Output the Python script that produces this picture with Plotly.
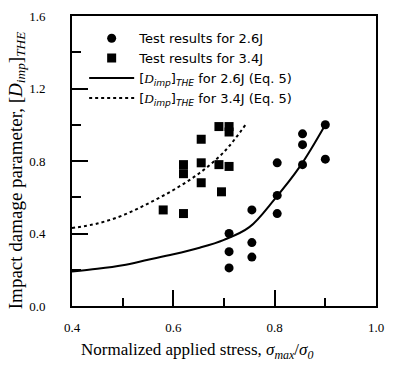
import plotly.graph_objects as go

# Test results, 2.6 J (circles)
x26 = [0.71, 0.71, 0.71, 0.755, 0.755, 0.755, 0.805, 0.805, 0.805, 0.855, 0.855, 0.855, 0.90, 0.90]
y26 = [0.40, 0.30, 0.21, 0.53, 0.35, 0.27, 0.79, 0.61, 0.51, 0.95, 0.89, 0.78, 1.00, 0.81]
# Test results, 3.4 J (squares)
x34 = [0.58, 0.62, 0.62, 0.62, 0.655, 0.655, 0.655, 0.69, 0.71, 0.71, 0.69, 0.71, 0.695]
y34 = [0.53, 0.51, 0.78, 0.73, 0.92, 0.79, 0.68, 0.99, 0.99, 0.96, 0.78, 0.77, 0.63]
# Eq. 5 curves
xc26 = [0.40, 0.45, 0.50, 0.55, 0.60, 0.65, 0.70, 0.75, 0.80, 0.85, 0.90]
yc26 = [0.19, 0.205, 0.225, 0.255, 0.285, 0.32, 0.365, 0.435, 0.59, 0.77, 1.00]
xc34 = [0.40, 0.45, 0.50, 0.55, 0.60, 0.65, 0.70, 0.745]
yc34 = [0.43, 0.455, 0.50, 0.565, 0.64, 0.73, 0.85, 1.01]

ytickvals = [0.0, 0.4, 0.8, 1.2, 1.6]
yticktext = ["0.0", "0.4", "0.8", "1.2", "1.6"]
xtickvals = [0.4, 0.6, 0.8, 1.0]
xticktext = ["0.4", "0.6", "0.8", "1.0"]

serif = "Liberation Serif"
sans = "DejaVu Sans"
D = '[<span style="font-family:Liberation Serif"><i>D</i></span><sub><i>imp</i></sub>]<sub><i>THE</i></sub>'

fig = go.Figure()
fig.add_trace(go.Scatter(x=x26, y=y26, mode="markers", name="Test results for 2.6J",
                         marker=dict(symbol="circle", size=9, color="black")))
fig.add_trace(go.Scatter(x=x34, y=y34, mode="markers", name="Test results for 3.4J",
                         marker=dict(symbol="square", size=9, color="black")))
fig.add_trace(go.Scatter(x=xc26, y=yc26, mode="lines", name=D + " for 2.6J (Eq. 5)",
                         line=dict(color="black", width=2, shape="spline")))
fig.add_trace(go.Scatter(x=xc34, y=yc34, mode="lines", name=D + " for 3.4J (Eq. 5)",
                         line=dict(color="black", width=2, dash="dot", shape="spline")))

fig.update_layout(
    width=393, height=369,
    margin=dict(l=72, r=9, t=10, b=63),
    paper_bgcolor="white", plot_bgcolor="white",
    showlegend=True,
    legend=dict(x=0.04, y=0.975, xanchor="left", yanchor="top",
                bgcolor="rgba(0,0,0,0)", itemwidth=45, tracegroupgap=0,
                font=dict(family=sans, size=13, color="black")),
    font=dict(family=serif, color="black"),
    annotations=[
        dict(text="Normalized applied stress, <i>σ</i><sub><i>max</i></sub>/<i>σ</i><sub><i>0</i></sub>",
             xref="paper", yref="paper", x=0.41, y=-0.155, xanchor="center", yanchor="middle",
             showarrow=False, font=dict(family=serif, size=17, color="black")),
        dict(text="Impact damage parameter, [<i>D</i><sub><i>imp</i></sub>]<sub><i>THE</i></sub>",
             xref="paper", yref="paper", x=-0.183, y=0.466, xanchor="center", yanchor="middle",
             textangle=-90, showarrow=False, font=dict(family=serif, size=19, color="black")),
    ],
)
fig.update_xaxes(
    range=[0.4, 1.0], tickvals=xtickvals, ticktext=xticktext,
    ticks="inside", ticklen=16, tickwidth=2, tickcolor="black",
    minor=dict(dtick=0.1, ticks="inside", ticklen=8, tickwidth=2, tickcolor="black"),
    showline=True, linewidth=2, linecolor="black", mirror=True, showgrid=False, zeroline=False,
    tickfont=dict(family=serif, size=13), ticklabelstandoff=8,
)
fig.update_yaxes(
    range=[0.0, 1.6], tickvals=ytickvals, ticktext=yticktext,
    ticks="inside", ticklen=16, tickwidth=2, tickcolor="black",
    minor=dict(dtick=0.2, ticks="inside", ticklen=9, tickwidth=2, tickcolor="black"),
    showline=True, linewidth=2, linecolor="black", mirror=True, showgrid=False, zeroline=False,
    tickfont=dict(family=serif, size=13), ticklabelstandoff=22,
)
fig.write_html("out.html")
